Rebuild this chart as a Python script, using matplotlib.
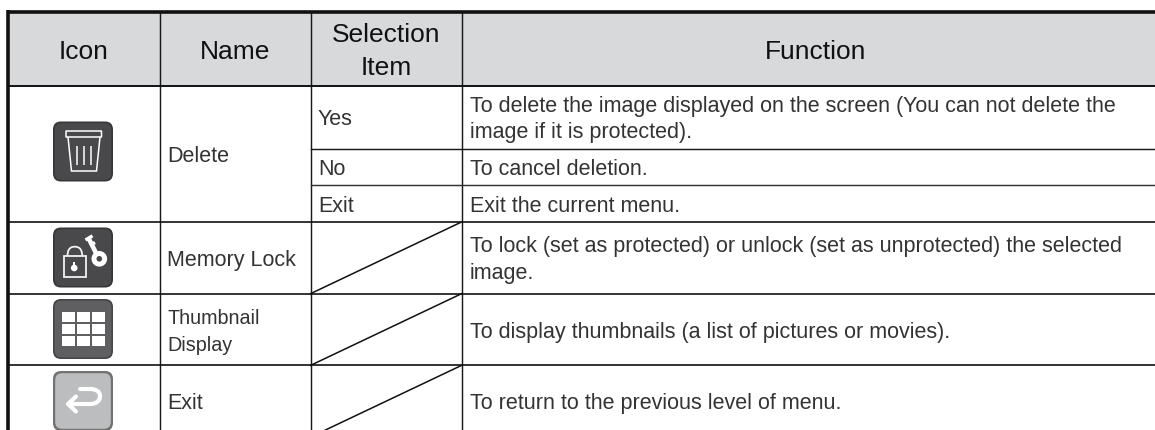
import matplotlib
matplotlib.use("Agg")
import matplotlib.pyplot as plt
from matplotlib.patches import FancyBboxPatch, Rectangle, Circle, PathPatch, Wedge
from matplotlib.path import Path

# table content
headers = ["Icon", "Name", "Selection\nItem", "Function"]
names = ["Delete", "Memory Lock", "Thumbnail\nDisplay", "Exit"]
selection_items = ["Yes", "No", "Exit"]
functions = [
    "To delete the image displayed on the screen (You can not delete the\nimage if it is protected).",
    "To cancel deletion.",
    "Exit the current menu.",
    "To lock (set as protected) or unlock (set as unprotected) the selected\nimage.",
    "To display thumbnails (a list of pictures or movies).",
    "To return to the previous level of menu.",
]

W, H = 1155, 430
fig = plt.figure(figsize=(W / 100, H / 100), dpi=100)
ax = fig.add_axes([0, 0, 1, 1])
ax.set_xlim(0, W)
ax.set_ylim(H, 0)
ax.axis("off")

FONT = "Liberation Sans"
HEAD = 19.0
BODY = 15.5
INK = "#333333"
SMALL = 14.2

# grid
col_x = [159.5, 310.5, 461.5]
top, head_bot = 12, 85.5
row_y = [148.8, 185, 222, 293.7, 365.4]
ax.add_patch(Rectangle((8, top), W - 8, head_bot - top, fc="#d8d9db", ec="none", zorder=0))

LW = 1.05
for x in col_x:
    ax.plot([x, x], [top, H], color="#1a1a1a", lw=LW, zorder=2)
ax.plot([8, W], [top, top], color="#111111", lw=2.6, solid_capstyle="butt", zorder=3)
ax.plot([8, 8], [top - 1.7, H], color="#111111", lw=2.6, solid_capstyle="butt", zorder=3)
ax.plot([8, W], [head_bot, head_bot], color="#111111", lw=1.4, zorder=3)
ax.plot([310.5, W], [row_y[0], row_y[0]], color="#1a1a1a", lw=LW, zorder=2)
ax.plot([310.5, W], [row_y[1], row_y[1]], color="#333333", lw=LW, zorder=2)
for y in row_y[2:]:
    ax.plot([8, W], [y, y], color="#111111", lw=1.2, zorder=2)
# diagonal strikes
diag_tops = [222, 293.7, 365.4]
for y0 in diag_tops:
    ax.plot([col_x[1], col_x[2]], [y0 + 71.7, y0], color="#111111", lw=1.1, zorder=2)

# text
def T(x, y, s, size=BODY, ha="left", color=INK):
    ax.text(x, y, s, fontsize=size, ha=ha, va="baseline", family=FONT, color=color, zorder=5)

sel_lines = headers[2].split("\n")
T(84, 59, headers[0], HEAD, "center", "#111111")
T(235, 59, headers[1], HEAD, "center", "#111111")
T(386, 42, sel_lines[0], HEAD, "center", "#111111")
T(386, 75, sel_lines[1], HEAD, "center", "#111111")
T(815.5, 59, headers[3], HEAD, "center", "#111111")

thumb = names[2].split("\n")
T(167, 162, names[0])
T(167, 266, names[1])
T(167, 324, thumb[0], SMALL)
T(167, 351, thumb[1], SMALL)
T(167, 409, names[3])

for y, s in zip([125, 175, 212], selection_items):
    T(318, y, s)

f0 = functions[0].split("\n")
f3 = functions[3].split("\n")
T(470, 112, f0[0]); T(470, 138, f0[1])
T(470, 175, functions[1])
T(470, 212, functions[2])
T(470, 252, f3[0]); T(470, 279, f3[1])
T(470, 338, functions[4])
T(470, 409, functions[5])

# icons
def icon(y, face, edge, inset=1.6):
    ax.add_patch(FancyBboxPatch((53 + 8, y + 8), 60 - 16, 60 - 16, boxstyle="round,pad=8", fc=edge, ec="none", zorder=3))
    ax.add_patch(FancyBboxPatch((53 + inset + 7, y + inset + 7), 60 - 2 * inset - 14, 60 - 2 * inset - 14,
                                boxstyle="round,pad=7", fc=face, ec="none", zorder=3))

def wline(xs, ys, lw=1.0, cap="butt", join="miter"):
    ax.plot(xs, ys, color="white", lw=lw, solid_capstyle=cap, solid_joinstyle=join, zorder=4)

# delete icon
icon(121.5, "#49494b", "#363638")
ax.add_patch(FancyBboxPatch((66.5, 131.5), 34.5, 5, boxstyle="round,pad=0.5", fc="none", ec="white", lw=1.1, zorder=4))
wline([68, 71.5, 96.5, 100], [137, 171, 171, 137], lw=1.1)
for x in (77, 84, 91):
    wline([x, x], [146, 165], lw=1.1)

# memory lock icon
icon(227.5, "#49494b", "#363638")
ax.add_patch(Rectangle((63.5, 256), 22.5, 21.3, fc="none", ec="#f2f2f2", lw=1.3, zorder=4))
t = [(67.5, 256), (67.5, 251), (69, 246.7), (74.8, 246.7), (80.6, 246.7), (82.2, 251), (82.2, 256)]
ax.add_patch(PathPatch(Path(t, [Path.MOVETO] + [Path.CURVE4] * 6), fc="none", ec="#f2f2f2", lw=1.3, zorder=4))
ax.add_patch(Circle((74.2, 268), 3.3, fc="white", ec="none", zorder=4))
ax.add_patch(Rectangle((73.2, 261.5), 2, 5, fc="white", ec="none", zorder=4))
wline([96, 88.5], [253, 238], lw=3.3)
wline([85.5, 92.5], [240, 235.8], lw=2.4)
wline([90, 95], [245.5, 242.5], lw=2.4)
ax.add_patch(Wedge((99.3, 258.8), 7.8, 0, 360, width=5, fc="white", ec="none", zorder=4))

# thumbnail icon
icon(299, "#5f5f61", "#454547")
cell_x = [62, 77, 92]
cell_y = [312, 323.8, 335.8]
for cy in cell_y:
    for cx in cell_x:
        ax.add_patch(Rectangle((cx, cy), 13.2, 10, fc="white", ec="none", zorder=4))

# exit icon
icon(371, "#bcbdbe", "#727273", inset=2.2)
p = Path([(68.5, 404), (90, 404), (96, 404), (100, 401), (100, 396), (100, 391.5), (96, 389), (90, 389), (80, 389)],
         [Path.MOVETO, Path.LINETO, Path.CURVE4, Path.CURVE4, Path.CURVE4, Path.CURVE4, Path.CURVE4, Path.CURVE4, Path.LINETO])
ax.add_patch(PathPatch(p, fc="none", ec="white", lw=3.0, capstyle="round", zorder=4))
wline([76, 68, 76], [396.5, 404, 411.5], lw=3.0, cap="round", join="round")

fig.savefig("out.png", dpi=100)
